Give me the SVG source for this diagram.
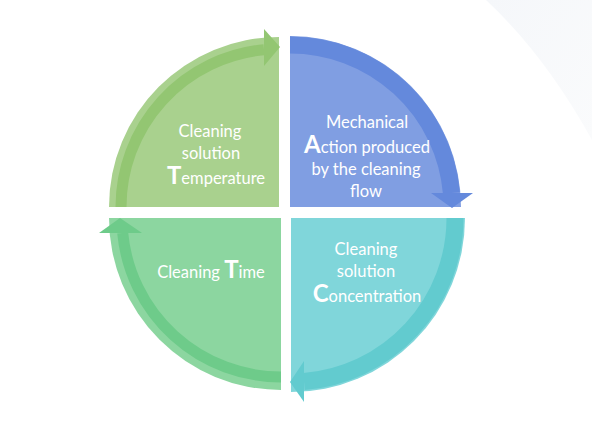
<svg xmlns="http://www.w3.org/2000/svg" width="592" height="421" viewBox="0 0 592 421">
  <defs>
    <linearGradient id="bgfade" x1="0" y1="0" x2="1" y2="1">
      <stop offset="0" stop-color="#f5f7fa"/>
      <stop offset="1" stop-color="#fafbfc"/>
    </linearGradient>
  </defs>
  <style>
    .band { fill: none; stroke-width: 17; stroke-linecap: butt; }
    .thin { stroke-width: 11; }
    .lbl { font-family: Lato, "Open Sans", "Liberation Sans", sans-serif; font-size: 16.5px; fill: #ffffff; text-anchor: middle; }
    .big { font-size: 24px; font-weight: bold; }
  </style>
  <rect width="592" height="421" fill="#ffffff"/>
  <path d="M486,0 Q545,55 592,140 L592,0 Z" fill="url(#bgfade)"/>

  <g id="node-temperature">
    <path d="M279,207 L279,37 A170,170 0 0 0 109,207 Z" fill="#a9d18e"/>
    <path class="band thin" d="M121,207 A158,158 0 0 1 264,49.7" stroke="#93c672"/>
    <polygon points="264,29 280,47 264,66" fill="#93c672"/>
    <text class="lbl" x="210" y="137">Cleaning</text>
    <text class="lbl" x="211" y="159">solution</text>
    <text class="lbl" x="216" y="184"><tspan class="big">T</tspan>emperature</text>
  </g>

  <g id="node-action">
    <path d="M290,207 L290,36 A171,171 0 0 1 461,207 Z" fill="#809ee2"/>
    <path class="band" d="M290,45 A162,162 0 0 1 451.4,193" stroke="#6489dc"/>
    <polygon points="431,193 473,193 452,208" fill="#6489dc"/>
    <text class="lbl" x="367" y="128">Mechanical</text>
    <text class="lbl" x="367" y="153"><tspan class="big">A</tspan>ction produced</text>
    <text class="lbl" x="366" y="175">by the cleaning</text>
    <text class="lbl" x="366" y="197">flow</text>
  </g>

  <g id="node-concentration">
    <path d="M291,218 L465,218 A174,174 0 0 1 291,392 Z" fill="#80d6da"/>
    <path class="band" d="M455,218 A164,164 0 0 1 304,381.5" stroke="#62cbcf"/>
    <polygon points="304,361 304,402 290,382" fill="#62cbcf"/>
    <text class="lbl" x="366" y="255">Cleaning</text>
    <text class="lbl" x="366" y="277">solution</text>
    <text class="lbl" x="367" y="302"><tspan class="big">C</tspan>oncentration</text>
  </g>

  <g id="node-time">
    <path d="M281,218 L281,390 A172,172 0 0 1 109,218 Z" fill="#8cd6a0"/>
    <path class="band thin" d="M281,377 A159,159 0 0 1 122.7,233" stroke="#6ecb8a"/>
    <polygon points="99,233 142,233 120,218" fill="#6ecb8a"/>
    <text class="lbl" x="211" y="278">Cleaning <tspan class="big">T</tspan>ime</text>
  </g>

  <g id="connectors"></g>
</svg>
